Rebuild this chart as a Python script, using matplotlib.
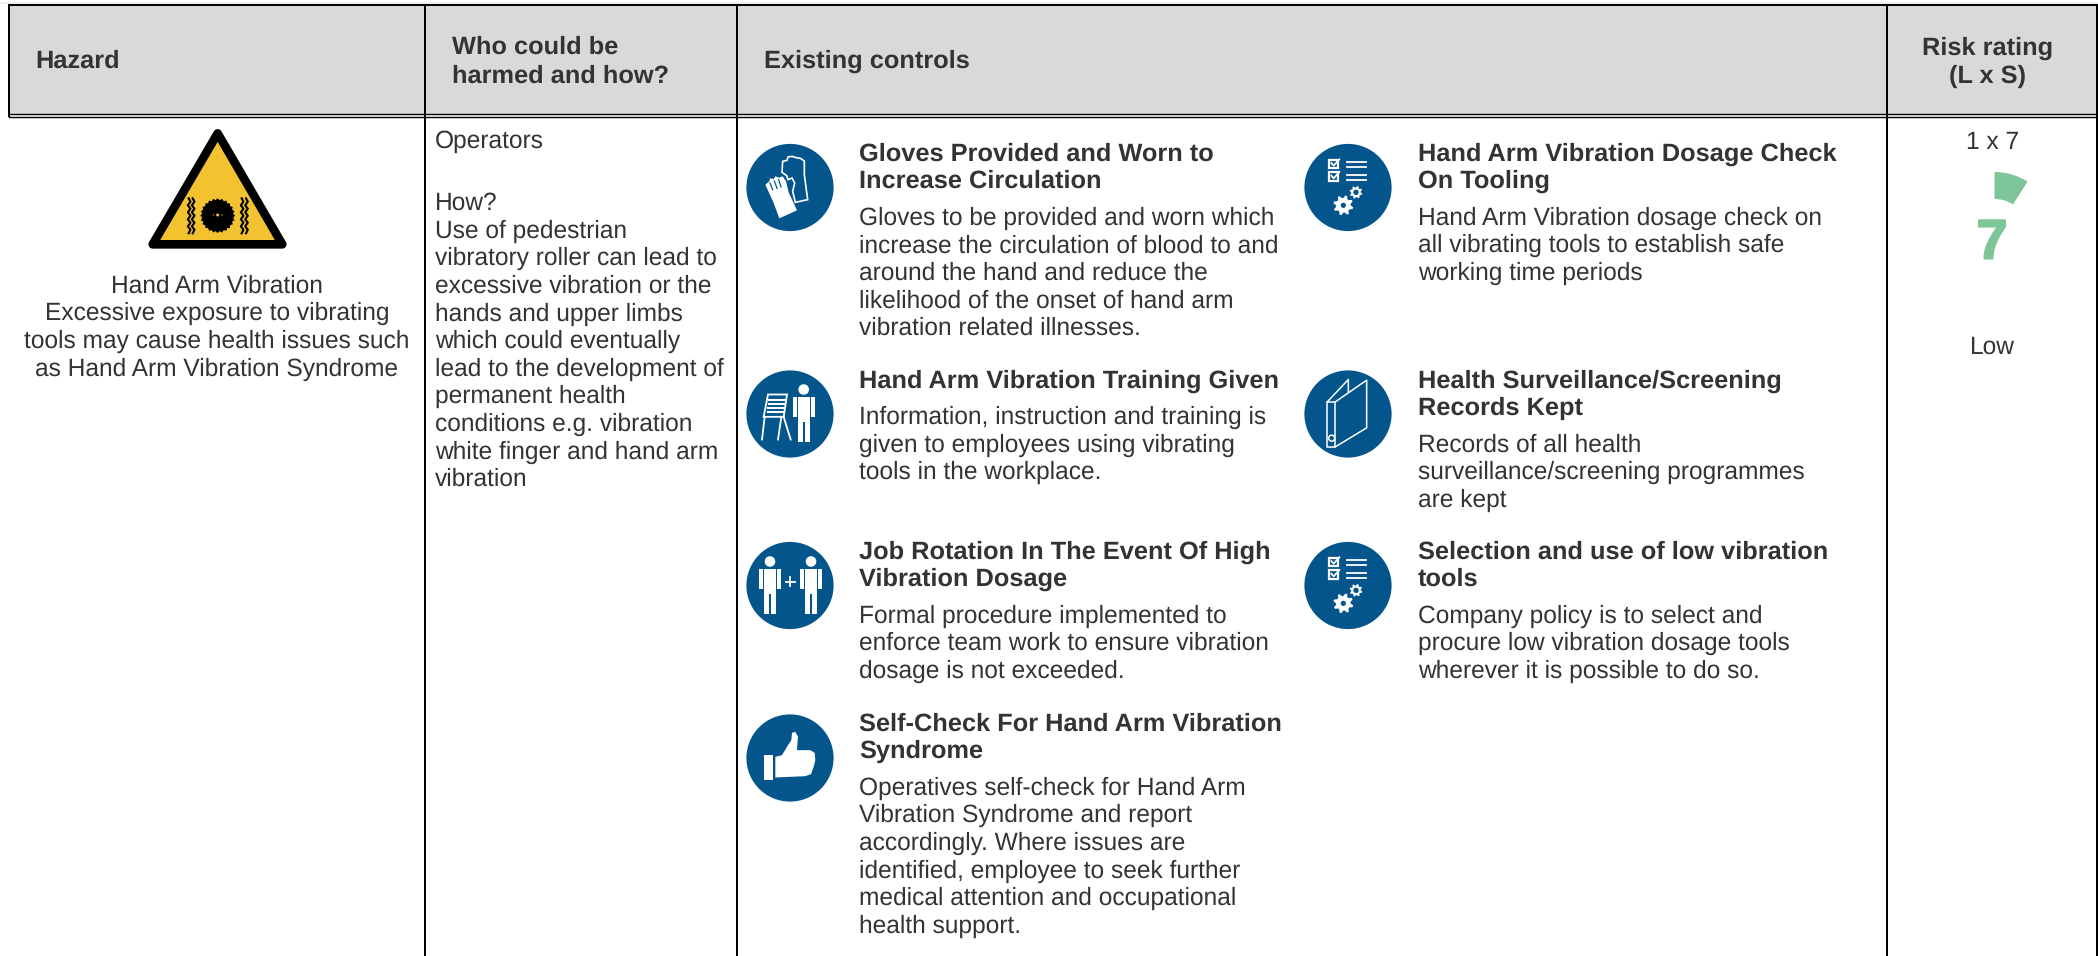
import numpy as np
import matplotlib
matplotlib.use("Agg")
import matplotlib.pyplot as plt
import matplotlib.patheffects as pe
from matplotlib.patches import Circle, Polygon, Rectangle, Wedge

plt.rcParams['font.family'] = ['Liberation Sans', 'DejaVu Sans']
plt.rcParams['text.hinting'] = 'no_hinting'

# ---- content ----
header_single = [("Hazard", 35.5), ("Existing controls", 764)]
header_who = ["Who could be", "harmed and how?"]
header_risk = ["Risk rating", "(L x S)"]
hazard_lines = ["Hand Arm Vibration", "Excessive exposure to vibrating",
                "tools may cause health issues such", "as Hand Arm Vibration Syndrome"]
who_first = "Operators"
who_lines = ["How?", "Use of pedestrian", "vibratory roller can lead to", "excessive vibration or the",
             "hands and upper limbs", "which could eventually", "lead to the development of",
             "permanent health", "conditions e.g. vibration", "white finger and hand arm", "vibration"]
risk_score = "1 x 7"
risk_value = "7"
risk_label = "Low"
controls_left = [
    (["Gloves Provided and Worn to", "Increase Circulation"],
     ["Gloves to be provided and worn which", "increase the circulation of blood to and",
      "around the hand and reduce the", "likelihood of the onset of hand arm",
      "vibration related illnesses."]),
    (["Hand Arm Vibration Training Given"],
     ["Information, instruction and training is", "given to employees using vibrating",
      "tools in the workplace."]),
    (["Job Rotation In The Event Of High", "Vibration Dosage"],
     ["Formal procedure implemented to", "enforce team work to ensure vibration",
      "dosage is not exceeded."]),
    (["Self-Check For Hand Arm Vibration", "Syndrome"],
     ["Operatives self-check for Hand Arm", "Vibration Syndrome and report",
      "accordingly. Where issues are", "identified, employee to seek further",
      "medical attention and occupational", "health support."]),
]
controls_right = [
    (["Hand Arm Vibration Dosage Check", "On Tooling"],
     ["Hand Arm Vibration dosage check on", "all vibrating tools to establish safe",
      "working time periods"]),
    (["Health Surveillance/Screening", "Records Kept"],
     ["Records of all health", "surveillance/screening programmes", "are kept"]),
    (["Selection and use of low vibration", "tools"],
     ["Company policy is to select and", "procure low vibration dosage tools",
      "wherever it is possible to do so."]),
]

# ---- layout (pixels) ----
W, H = 2098, 956
COL_X = [8.7, 425, 737, 1887, 2096.5]
TOP, HEAD_A, HEAD_B = 5, 113.5, 116.5
LEAD = 27.6
LEFT_TOPS = [160, 387, 557.7, 730]
RIGHT_TOPS = [160, 387, 557.7]
ICON_Y_LEFT = [187.5, 414, 585.5, 758]
ICON_Y_RIGHT = [187.5, 414, 585.5]
INK, BLUE, GREEN = '#333333', '#03558c', '#7fc59a'
BODY, BOLD = 17.65, 18.3
DY = 0.6

fig = plt.figure(figsize=(W / 100, H / 100), dpi=100, facecolor='white')
ax = fig.add_axes([0, 0, 1, 1])
ax.set_xlim(0, W)
ax.set_ylim(H, 0)
ax.axis('off')


def body(x, y, s, ha='left'):
    ax.text(x, y + DY, s, fontsize=BODY, color=INK, ha=ha, va='baseline')


def bold(x, y, s, ha='left'):
    ax.text(x, y + DY, s, fontsize=BOLD, color=INK, ha=ha, va='baseline', fontweight='bold')


# ---- table frame ----
ax.add_patch(Rectangle((COL_X[0], TOP), COL_X[-1] - COL_X[0], HEAD_A - TOP, fc='#d9d9d9', ec='none', zorder=0))
ax.plot([0, W], [2.5, 2.5], color='#eeeeee', lw=1.5, zorder=0)
blw = 2 * 0.72
ax.plot([COL_X[0], COL_X[-1]], [TOP, TOP], color='k', lw=blw, solid_capstyle='projecting')
ax.plot([COL_X[0], COL_X[-1]], [HEAD_A, HEAD_A], color='k', lw=1.0)
ax.plot([COL_X[0], COL_X[-1]], [HEAD_B, HEAD_B], color='k', lw=1.0)
ax.plot([COL_X[0], COL_X[0]], [TOP, HEAD_B], color='k', lw=blw, solid_capstyle='butt')
for x in COL_X[1:]:
    ax.plot([x, x], [TOP, H], color='k', lw=blw, solid_capstyle='butt')

# ---- headers ----
for s, x in header_single:
    bold(x, 66.7, s)
bold(452, 53, header_who[0])
bold(452, 81.7, header_who[1])
bold(1988, 54, header_risk[0], ha='center')
bold(1988, 82, header_risk[1], ha='center')

# ---- hazard column ----
for s, y in zip(hazard_lines, [292, 319.5, 347, 375]):
    body(217, y, s, ha='center')

# warning sign, drawn in 3x crop coordinates
def sx(v):
    return 140 + v / 3


def sy(v):
    return 120 + v / 3


ax.add_patch(Polygon([(sx(233), sy(40)), (sx(38), sy(373)), (sx(427), sy(373))], closed=True,
                     fc='#f2c230', ec='k', lw=6.2, joinstyle='round', zorder=2))
n = 24
ang = np.linspace(0, 2 * np.pi, 2 * n, endpoint=False)
rad = np.where(np.arange(2 * n) % 2 == 0, 17.4, 15.6)
ax.add_patch(Polygon(np.c_[sx(233) + rad * np.cos(ang), sy(287) + rad * np.sin(ang)], fc='k', ec='none', zorder=3))
ax.add_patch(Circle((sx(233), sy(285)), 1.5, fc='#f2c230', ec='none', zorder=4))
ax.add_patch(Circle((sx(220), sy(285)), 0.6, fc='#f2c230', ec='none', zorder=4))
ax.add_patch(Circle((sx(246), sy(285)), 0.6, fc='#f2c230', ec='none', zorder=4))
zig = [0, 9, -4, 9, -4, 9, -4, 9, -4, 9, 0]
zig_y = [235, 245, 256, 266, 277, 287, 298, 308, 319, 329, 340]
for x0 in [146, 158, 305, 318]:
    ax.plot([sx(x0 + z * 0.6) for z in zig], [sy(v) for v in zig_y], color='k', lw=1.5, zorder=3,
            solid_joinstyle='round')

# ---- who column ----
body(435, 147, who_first)
for i, s in enumerate(who_lines):
    body(435, 209.5 + i * LEAD, s)

# ---- controls ----
for group, x, tops in [(controls_left, 859.4, LEFT_TOPS), (controls_right, 1418, RIGHT_TOPS)]:
    for (title, text), y0 in zip(group, tops):
        y = y0
        for s in title:
            bold(x, y, s)
            y += LEAD
        y = y - LEAD + 36.5
        for s in text:
            body(x, y, s)
            y += LEAD


# ---- icons ----
def mapper(cx, cy):
    return lambda pts: [(cx + (a - 144) / 3, cy + (b - 143.5) / 3) for a, b in pts]


def disc(cx, cy):
    ax.add_patch(Circle((cx, cy), 43.6, fc=BLUE, ec='none', zorder=2))


def person(x, hy):
    ax.add_patch(Circle((x, hy), 5.3, fc='w', ec='none', zorder=3))
    ax.add_patch(Rectangle((x - 6, hy + 7.3), 12, 25, fc='w', ec='none', zorder=3))
    for a in (x - 11, x + 7):
        ax.add_patch(Rectangle((a, hy + 7.3), 4, 20, fc='w', ec='none', zorder=3))
    for a in (x - 6, x + 1):
        ax.add_patch(Rectangle((a, hy + 30), 5, 22, fc='w', ec='none', zorder=3))


def gear(x, y, r_out, r_in, r_hole, teeth=8):
    k = 4 * teeth
    t = np.linspace(0, 2 * np.pi, k, endpoint=False) + 0.2
    r = np.where(np.arange(k) % 4 < 2, r_out, r_in)
    ax.add_patch(Polygon(np.c_[x + r * np.cos(t), y + r * np.sin(t)], fc='w', ec='none', zorder=3))
    ax.add_patch(Circle((x, y), r_hole, fc=BLUE, ec='none', zorder=4))


for y in ICON_Y_LEFT:
    disc(790, y)
for y in ICON_Y_RIGHT:
    disc(1348, y)

# gloves
m = mapper(790, ICON_Y_LEFT[0])
ax.add_patch(Polygon(m([(120, 98), (122, 65), (135, 62), (138, 52), (150, 50), (163, 54), (175, 56), (187, 64),
                        (187, 105), (197, 180), (160, 188), (152, 155), (158, 130), (150, 115), (138, 120), (134, 108)]),
                     fc='none', ec='w', lw=1.2, zorder=3))
ax.add_patch(Polygon(m([(70, 135), (82, 125), (84, 116), (95, 118), (100, 110), (112, 114), (122, 110), (132, 125),
                        (140, 158), (165, 212), (112, 236), (95, 190)]), fc='w', ec='none', zorder=4))
for a, b in [((84, 130), (92, 150)), ((97, 124), (105, 146)), ((110, 120), (117, 142))]:
    p = m([a, b])
    ax.plot([p[0][0], p[1][0]], [p[0][1], p[1][1]], color=BLUE, lw=0.9, zorder=5)

# flip chart and trainer
m = mapper(790, ICON_Y_LEFT[1])
ax.add_patch(Polygon(m([(78, 85), (135, 85), (125, 152), (65, 152)]), fc='none', ec='w', lw=1.3, zorder=3))
for a, b, c in [(82, 128, 100), (80, 126, 112), (78, 124, 124), (77, 122, 136)]:
    p = m([(a, c), (b, c)])
    ax.plot([p[0][0], p[1][0]], [p[0][1], p[1][1]], color='w', lw=1.5, zorder=3)
for a, b in [((68, 152), (60, 220)), ((118, 152), (108, 220)), ((125, 152), (146, 220))]:
    p = m([a, b])
    ax.plot([p[0][0], p[1][0]], [p[0][1], p[1][1]], color='w', lw=1.3, zorder=3)
person(790 + 13.7, ICON_Y_LEFT[1] - 24.5)

# job rotation
yc = ICON_Y_LEFT[2]
person(790 - 20, yc - 24)
person(790 + 21, yc - 24)
ax.plot([785.5, 794.5], [yc - 4, yc - 4], color='w', lw=1.3, zorder=3)
ax.plot([790, 790], [yc - 8.5, yc + 0.5], color='w', lw=1.3, zorder=3)

# thumb up
m = mapper(790, ICON_Y_LEFT[3])
ax.add_patch(Polygon(m([(67, 135), (93, 135), (93, 208), (67, 208)]), fc='w', ec='none', zorder=3))
ax.add_patch(Polygon(m([(100, 140), (120, 135), (138, 105), (148, 90), (150, 68), (160, 65), (168, 80), (166, 105),
                        (165, 120), (205, 120), (218, 128), (220, 150), (215, 170), (207, 192), (190, 198), (100, 202)]),
                     fc='w', ec='none', zorder=3))

# checklist and gears (used twice)
for y in (ICON_Y_RIGHT[0], ICON_Y_RIGHT[2]):
    m = mapper(1348, y)
    for top in (60, 98):
        ax.add_patch(Polygon(m([(88, top), (113, top), (113, top + 25), (88, top + 25)]), fc='none', ec='w', lw=1.6, zorder=3))
        ax.plot(*zip(*m([(94, top + 10), (101, top + 18), (118, top - 1)])), color='w', lw=1.3, zorder=3)
    for ly in (68, 82, 105, 120):
        ax.plot(*zip(*m([(140, ly), (197, ly)])), color='w', lw=1.3, zorder=3)
    (gx, gy), (hx, hy) = m([(130, 197), (168, 158)])
    gear(gx, gy, 10, 7.3, 2.6)
    gear(hx, hy, 6.4, 4.8, 2.7)

# binder
m = mapper(1348, ICON_Y_RIGHT[1])
ax.add_patch(Polygon(m([(82, 107), (106, 107), (106, 242), (82, 242)]), fc='none', ec='w', lw=1.1, zorder=3))
ax.plot(*zip(*m([(82, 107), (145, 40), (145, 78)])), color='w', lw=1.1, zorder=3)
ax.plot(*zip(*m([(106, 107), (200, 42), (200, 185), (106, 242)])), color='w', lw=1.1, zorder=3)
ax.add_patch(Circle(m([(95, 216)])[0], 3, fc='none', ec='w', lw=1.1, zorder=3))

# ---- risk column ----
body(1993, 148, risk_score, ha='center')
body(1992, 353, risk_label, ha='center')
ax.add_patch(Wedge((1994.5, 233.5), 61.5, 270, 302.5, width=27, fc=GREEN, ec='none', zorder=2))
ax.text(1992, 258.5, risk_value, fontsize=40, fontweight='bold', color=GREEN, ha='center', va='baseline',
        path_effects=[pe.withStroke(linewidth=1.5, foreground=GREEN)])

fig.savefig('out.png', dpi=100, facecolor='white')
